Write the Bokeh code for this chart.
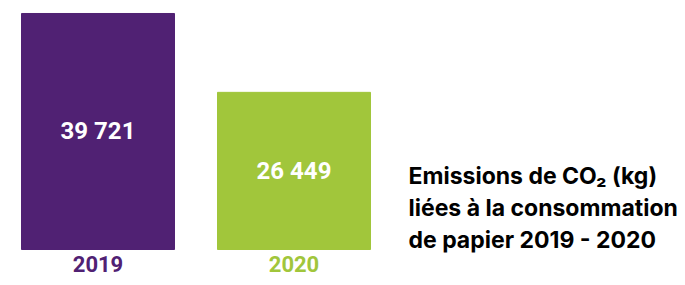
from bokeh.plotting import figure
from bokeh.models import Range1d, ColumnDataSource, Label
from bokeh.core.properties import value
from bokeh.embed import file_html
from bokeh.resources import INLINE

years = ["2019", "2020"]
emissions = [39721, 26449]
value_labels = ["39 721", "26 449"]
bar_colors = ["#502173", "#A1C63B"]
title_lines = ["Emissions de CO₂ (kg)", "liées à la consommation", "de papier 2019 - 2020"]

W, H = 677, 277
px_per_unit_x = 196.0
units_per_px_y = 168.3
base_px = 28  # distance of the zero line from the bottom of the figure

idx = list(range(len(years)))
src = ColumnDataSource(dict(
    x=idx,
    top=emissions,
    mid=[v / 2 for v in emissions],
    color=bar_colors,
    year=years,
    label=value_labels,
))

x0 = -97.5 / px_per_unit_x
p = figure(width=W, height=H, output_backend="svg", toolbar_location=None,
           x_range=Range1d(x0, x0 + W / px_per_unit_x),
           y_range=Range1d(-base_px * units_per_px_y, (H - base_px) * units_per_px_y),
           min_border=0)
p.axis.visible = False
p.grid.visible = False
p.outline_line_color = None
p.background_fill_color = "white"
p.border_fill_color = "white"

p.vbar(x="x", top="top", bottom=0, width=153 / px_per_unit_x, color="color", source=src)

p.text(x="x", y="mid", text="label", source=src, text_color="white",
       text_font=value("Roboto"), text_font_style="bold", text_font_size="24px",
       text_align="center", text_baseline="middle")

p.text(x="x", y=0, text="year", source=src, text_color="color",
       text_font=value("Roboto"), text_font_style="bold", text_font_size="22px",
       text_align="center", text_baseline="middle", y_offset=14)

for i, line in enumerate(title_lines):
    p.add_layout(Label(x=408, y=H - 175 - i * 32, x_units="screen", y_units="screen",
                       text=line, text_font="Inter", text_font_style="bold",
                       text_font_size="23px", text_color="black",
                       text_align="left", text_baseline="middle"))

open("out.html", "w").write(file_html(p, INLINE))
